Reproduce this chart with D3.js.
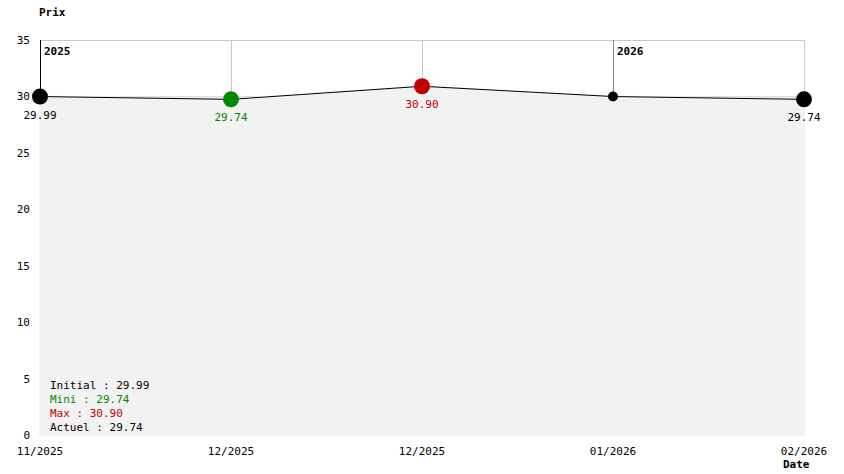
<!DOCTYPE html>
<html><head><meta charset="utf-8">
<script src="https://cdn.jsdelivr.net/npm/d3@7"></script>
<style>body{margin:0;background:#fff}svg{display:block}text{font-family:"DejaVu Sans Mono",monospace;font-size:11px}</style>
</head><body><svg id="c" width="844" height="474"></svg>
<script>
const dates = ["11/2025","12/2025","12/2025","01/2026","02/2026"];
const prices = [29.99, 29.74, 30.90, 29.99, 29.74];
const yTicks = [0,5,10,15,20,25,30,35];
const yearMarks = [{i:0,label:"2025"},{i:3,label:"2026"}];
const legend = [["Initial : 29.99","#000"],["Mini : 29.74","#008800"],["Max : 30.90","#c00000"],["Actuel : 29.74","#000"]];

const svg = d3.select("#c");
const x = d3.scalePoint().domain(d3.range(dates.length)).range([40,804]);
const y = d3.scaleLinear().domain([0,35]).range([435,40]);
const g = svg.append("g");
g.selectAll(".hg").data(yTicks).join("line").attr("x1",40).attr("x2",804)
 .attr("y1",d=>y(d)+0.5).attr("y2",d=>y(d)+0.5).attr("stroke","#c8c8c8");
g.selectAll(".vg").data(d3.range(dates.length)).join("line")
 .attr("x1",i=>x(i)+0.5).attr("x2",i=>x(i)+0.5).attr("y1",y(35)).attr("y2",y(0))
 .attr("stroke",i=>yearMarks.some(m=>m.i===i)?"#888":"#c8c8c8");
const pts = prices.map((p,i)=>({x:x(i),y:y(p),v:p,i:i}));
g.append("path").datum(pts).attr("d",d3.area().x(d=>d.x).y0(y(0)).y1(d=>d.y))
 .attr("fill","#f2f2f2").attr("stroke","#f2f2f2").attr("stroke-width",2);
g.append("line").attr("x1",40.5).attr("x2",40.5).attr("y1",y(35)).attr("y2",y(prices[0])).attr("stroke","#000");
g.append("path").datum(pts).attr("d",d3.line().x(d=>d.x).y(d=>d.y)).attr("fill","none").attr("stroke","#000").attr("stroke-width",1);
g.selectAll(".yl").data(yearMarks).join("text").attr("x",m=>x(m.i)+4).attr("y",55)
 .attr("font-weight","bold").text(m=>m.label);
const iMin = 1, iMax = 2;
const col = i => i===iMin?"#008800":(i===iMax?"#c00000":"#000");
const rad = i => (i===3)?5:8;
g.selectAll(".pt").data(pts).join("circle").attr("cx",d=>d.x).attr("cy",d=>d.y).attr("r",d=>rad(d.i)).attr("fill",d=>col(d.i));
g.selectAll(".vl").data(pts.filter(d=>d.i!==3)).join("text")
 .attr("x",d=>d.x).attr("y",d=>d.y+22).attr("text-anchor","middle")
 .attr("fill",d=>col(d.i)).text(d=>d.v.toFixed(2));
g.selectAll(".yt").data(yTicks).join("text").attr("x",30).attr("y",d=>y(d)+4).attr("text-anchor","end").text(d=>d);
g.selectAll(".xt").data(dates).join("text").attr("x",(d,i)=>x(i)).attr("y",455).attr("text-anchor","middle").text(d=>d);
svg.append("text").attr("x",783).attr("y",468).attr("font-weight","bold").text("Date");
svg.append("text").attr("x",39).attr("y",16).attr("font-weight","bold").text("Prix");
g.selectAll(".lg").data(legend).join("text").attr("x",50).attr("y",(d,i)=>389+i*14).attr("fill",d=>d[1]).text(d=>d[0]);
</script></body></html>
